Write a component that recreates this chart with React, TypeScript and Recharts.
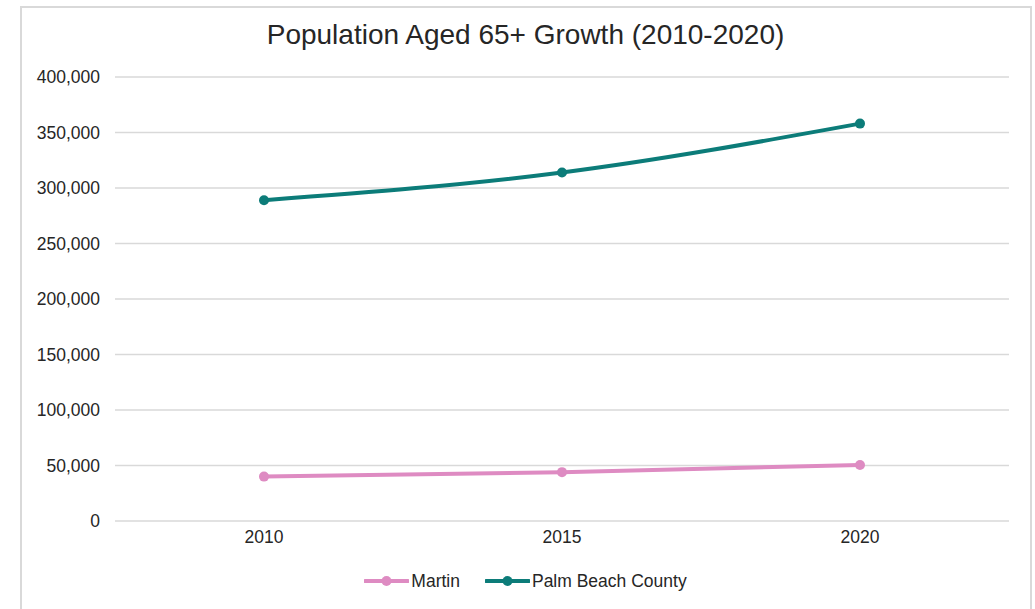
import { LineChart, Line, XAxis, YAxis, CartesianGrid } from "recharts";

const years = ["2010", "2015", "2020"];
const martin = [40000, 44000, 50500];
const palmBeach = [289000, 314000, 358000];
const yTicks = [0, 50000, 100000, 150000, 200000, 250000, 300000, 350000, 400000];

const seriesNames = ["Martin", "Palm Beach County"];
const seriesColors = ["#DE8BC2", "#0C7C79"];

const data = years.map((year, i) => ({
  year,
  martin: martin[i],
  palmBeach: palmBeach[i],
}));

const FONT = "'Liberation Sans', Arial, sans-serif";
const TEXT = "#262626";

function fmt(v: number) {
  return v.toLocaleString("en-US");
}

function LegendRow() {
  return (
    <div
      style={{
        position: "absolute",
        top: 571,
        left: 0,
        width: 1035,
        display: "flex",
        justifyContent: "center",
        paddingLeft: 16,
        boxSizing: "border-box",
        fontFamily: FONT,
        fontSize: 17.5,
        lineHeight: "20px",
        color: TEXT,
      }}
    >
      {seriesNames.map((name, i) => (
        <div
          key={name}
          style={{ display: "flex", alignItems: "center", marginRight: i === 0 ? 25 : 0 }}
        >
          <svg width={45} height={14} style={{ marginRight: 2 }}>
            <line x1={1} y1={7} x2={44} y2={7} stroke={seriesColors[i]} strokeWidth={4} strokeLinecap="round" />
            <circle cx={22.5} cy={7} r={5} fill={seriesColors[i]} />
          </svg>
          <span>{name}</span>
        </div>
      ))}
    </div>
  );
}

export default function App() {
  return (
    <div
      style={{
        position: "absolute",
        left: 0,
        top: 0,
        width: 1035,
        height: 609,
        background: "#fff",
        overflow: "hidden",
      }}
    >
      <div
        style={{
          position: "absolute",
          left: 20,
          top: 6,
          width: 1008,
          height: 620,
          border: "2px solid #d9d9d9",
        }}
      />
      <div
        style={{
          position: "absolute",
          top: 21,
          left: 0,
          width: 1035,
          textAlign: "center",
          paddingLeft: 16,
          boxSizing: "border-box",
          fontFamily: FONT,
          fontSize: 28,
          lineHeight: "28px",
          color: TEXT,
        }}
      >
        Population Aged 65+ Growth (2010-2020)
      </div>
      <div style={{ position: "absolute", left: 0, top: 0 }}>
        <LineChart
          width={1035}
          height={609}
          data={data}
          margin={{ top: 77, right: 26, bottom: 0, left: 0 }}
        >
          <CartesianGrid vertical={false} stroke="#d9d9d9" strokeWidth={1.5} />
          <XAxis
            dataKey="year"
            height={88}
            padding={{ left: 149, right: 149 }}
            axisLine={false}
            tickLine={false}
            tickMargin={4}
            tick={{ fill: TEXT, fontSize: 17.5, fontFamily: FONT }}
          />
          <YAxis
            width={115}
            domain={[0, 400000]}
            ticks={yTicks}
            interval={0}
            axisLine={false}
            tickLine={false}
            tickMargin={9}
            tickFormatter={fmt}
            tick={{ fill: TEXT, fontSize: 17.5, fontFamily: FONT }}
          />
          <Line
            dataKey="martin"
            name={seriesNames[0]}
            stroke={seriesColors[0]}
            strokeWidth={4}
            dot={{ r: 5, fill: seriesColors[0], stroke: seriesColors[0], strokeWidth: 0 }}
            isAnimationActive={false}
          />
          <Line
            type="monotone"
            dataKey="palmBeach"
            name={seriesNames[1]}
            stroke={seriesColors[1]}
            strokeWidth={4}
            dot={{ r: 5, fill: seriesColors[1], stroke: seriesColors[1], strokeWidth: 0 }}
            isAnimationActive={false}
          />
        </LineChart>
      </div>
      <LegendRow />
    </div>
  );
}
